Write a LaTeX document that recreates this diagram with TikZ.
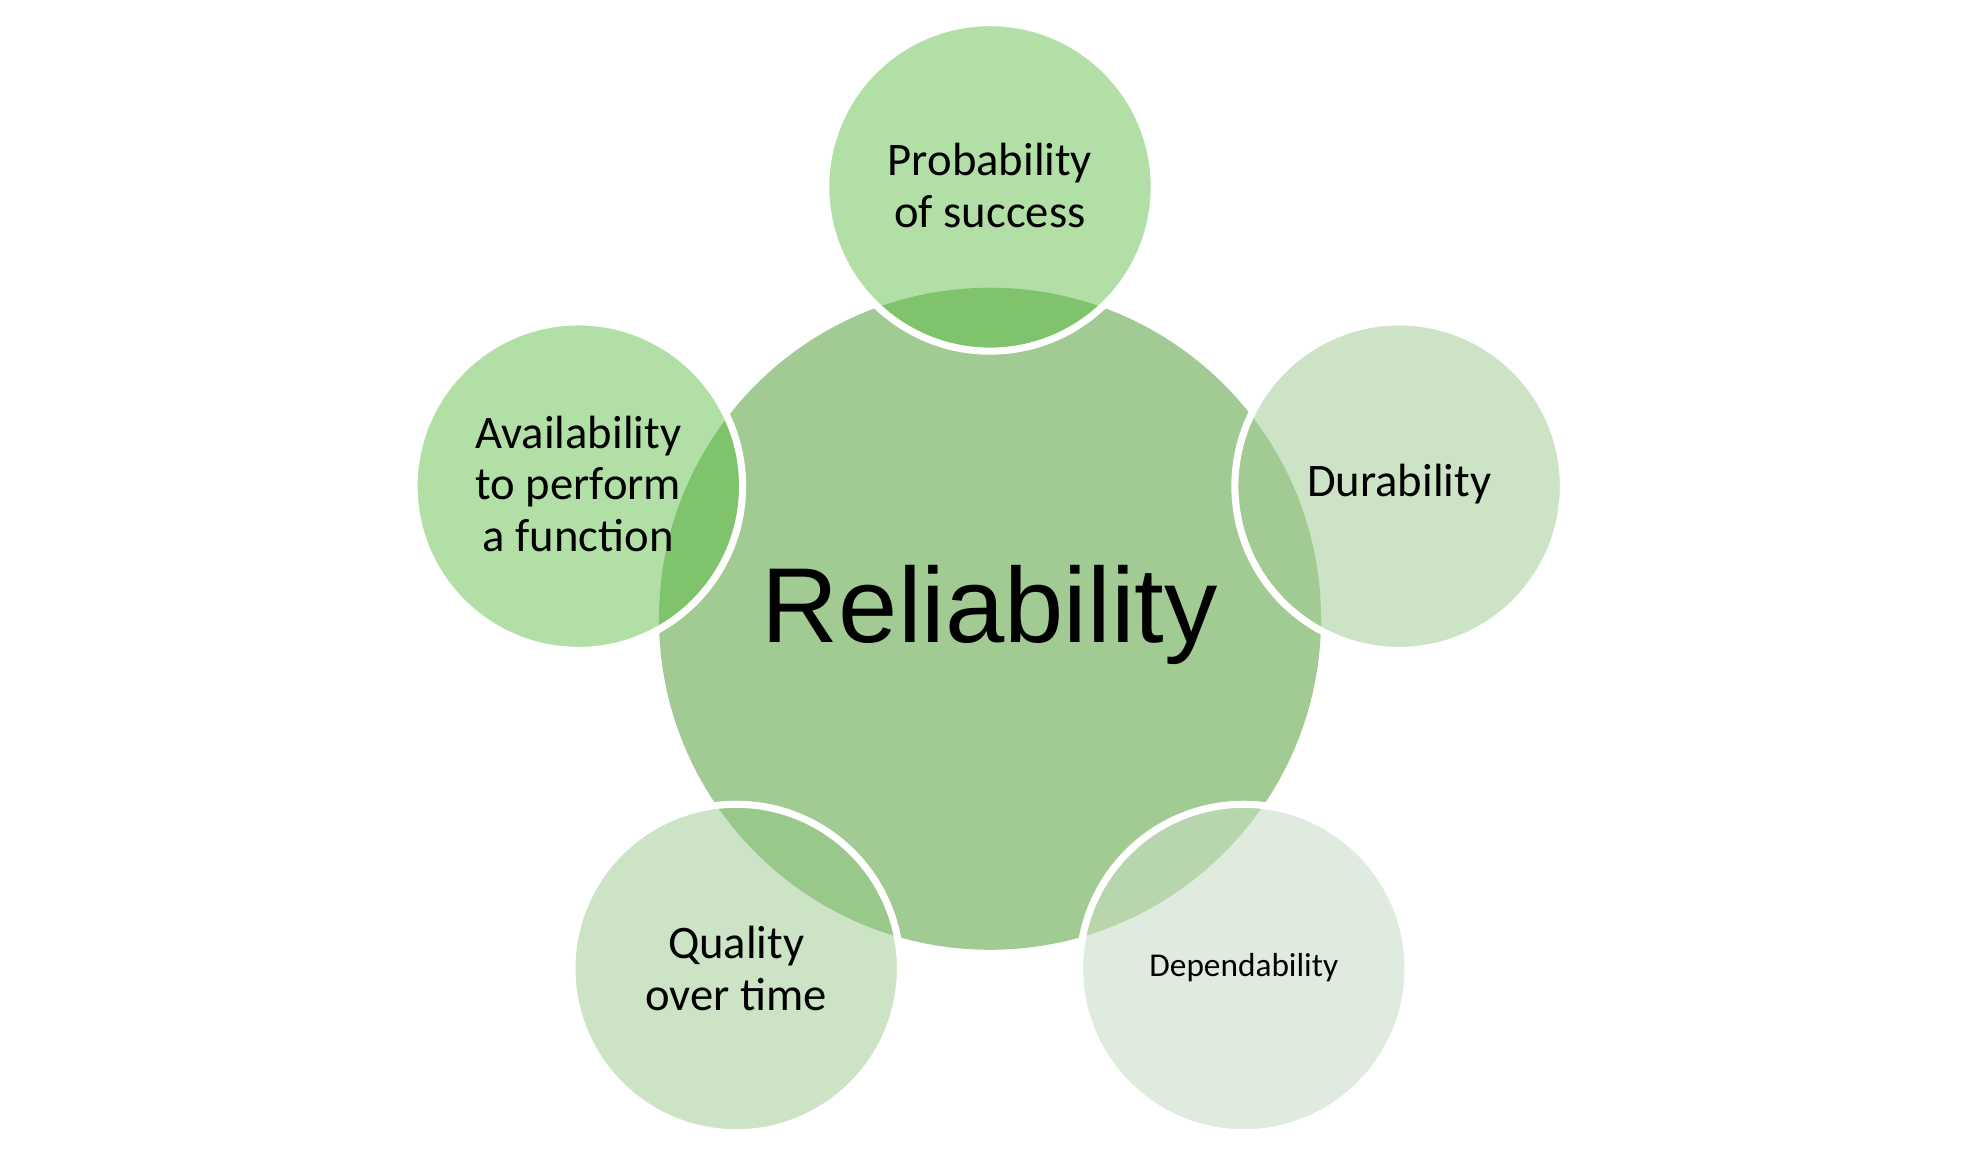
\documentclass[tikz,border=0pt]{standalone}
\usepackage{fontspec}
\setmainfont{Carlito}
\newfontfamily\arialf{Liberation Sans}
\definecolor{cmain}{HTML}{A2CA93}
\definecolor{cA}{HTML}{B2DFA6}
\definecolor{cB}{HTML}{CCE4C5}
\definecolor{cC}{HTML}{E0EBDF}
\definecolor{oA}{HTML}{7FC46C}
\definecolor{oB}{HTML}{98C98A}
\definecolor{oC}{HTML}{B8D6AE}
\tikzset{x=0.01cm,y=-0.01cm,
 lbl/.style={align=center,font=\fontsize{10.5}{11.6}\selectfont},
 ring/.style={draw=white,line width=1.6pt}}
\begin{document}
\begin{tikzpicture}
\useasboundingbox (0,0) rectangle (1568,915);
\def\R{2.62cm}\def\r{1.30cm}
\coordinate (m) at (784,490);
\fill[cmain] (m) circle[radius=\R];
\foreach \n/\x/\y/\c/\o in {t/784/148/cA/oA, l/458/385/cA/oA, r/1108/385/cB/cmain, bl/583/767/cB/oB, br/985/767/cC/oC}{
  \coordinate (\n) at (\x,\y);
  \fill[\c] (\n) circle[radius=\r];
  \begin{scope}
    \clip (m) circle[radius=\R];
    \fill[\o] (\n) circle[radius=\r];
  \end{scope}
  \draw[ring] (\n) circle[radius=\r];
}
\node[font=\arialf\fontsize{24}{28}\selectfont] (mt) at (784,487) {Reliability};
\node[lbl] (tt) at (784,147) {Probability\\of success};
\node[lbl] (lt) at (458,383) {Availability\\to perform\\a function};
\node[lbl] (rt) at (1108,383) {Durability};
\node[lbl] (blt) at (583,767) {Quality\\over time};
\node[lbl,font=\fontsize{7.5}{9}\selectfont] (brt) at (985,766) {Dependability};
\end{tikzpicture}
\end{document}
